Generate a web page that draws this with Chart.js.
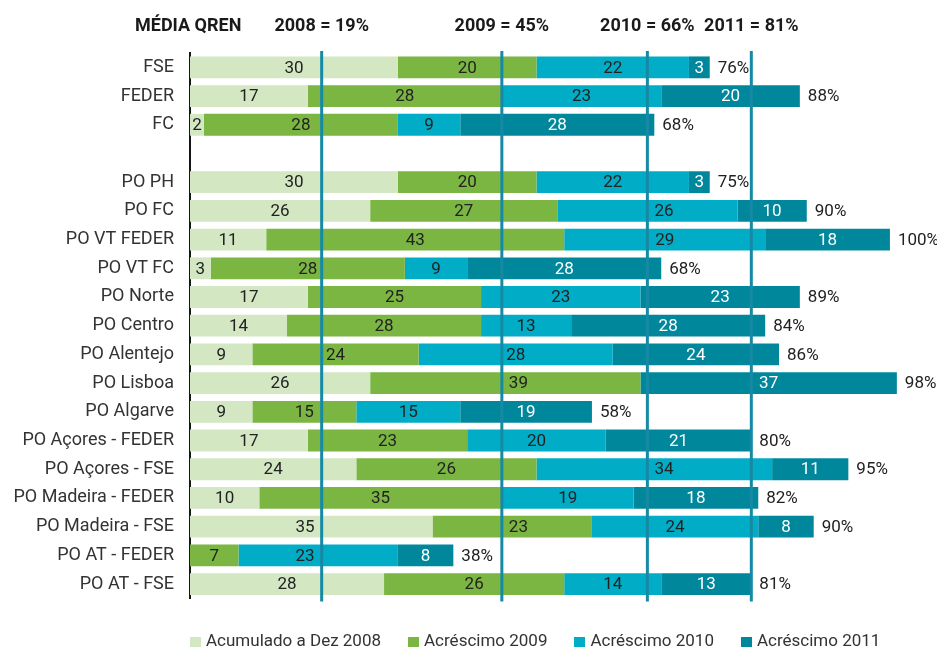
<!DOCTYPE html>
<html>
<head>
<meta charset="utf-8">
<script src="https://cdn.jsdelivr.net/npm/chart.js@4.4.1/dist/chart.umd.min.js"></script>
<style>
  html, body { margin: 0; padding: 0; background: #fff; overflow: hidden; }
  #wrap { position: relative; width: 937px; height: 647px; }
  #legend { position: absolute; left: 190px; top: 632px; display: flex; gap: 27px;
            font: 17px Roboto, sans-serif; color: #333; line-height: 17px; white-space: nowrap; }
  #legend .item { display: flex; align-items: center; }
  #legend .sw { display: inline-block; width: 11px; height: 11px; margin-right: 5px; margin-top: 3px; }
</style>
</head>
<body>
<div id="wrap">
  <canvas id="c" width="937" height="647"></canvas>
  <div id="legend"></div>
</div>
<script>
const categories = ['FSE', 'FEDER', 'FC', '', 'PO PH', 'PO FC', 'PO VT FEDER', 'PO VT FC', 'PO Norte',
  'PO Centro', 'PO Alentejo', 'PO Lisboa', 'PO Algarve', 'PO Açores - FEDER', 'PO Açores - FSE',
  'PO Madeira - FEDER', 'PO Madeira - FSE', 'PO AT - FEDER', 'PO AT - FSE'];
const acumulado2008 = [30, 17, 2, null, 30, 26, 11, 3, 17, 14, 9, 26, 9, 17, 24, 10, 35, 0, 28];
const acrescimo2009 = [20, 28, 28, null, 20, 27, 43, 28, 25, 28, 24, 39, 15, 23, 26, 35, 23, 7, 26];
const acrescimo2010 = [22, 23, 9, null, 22, 26, 29, 9, 23, 13, 28, 0, 15, 20, 34, 19, 24, 23, 14];
const acrescimo2011 = [3, 20, 28, null, 3, 10, 18, 28, 23, 28, 24, 37, 19, 21, 11, 18, 8, 8, 13];
const totalLabels = ['76%', '88%', '68%', '', '75%', '90%', '100%', '68%', '89%', '84%', '86%', '98%',
  '58%', '80%', '95%', '82%', '90%', '38%', '81%'];
const seriesNames = ['Acumulado a Dez 2008', 'Acréscimo 2009', 'Acréscimo 2010', 'Acréscimo 2011'];
const milestoneValues = [19, 45, 66, 81];
const milestoneLabels = ['2008 = 19%', '2009 = 45%', '2010 = 66%', '2011 = 81%'];
const headerTitle = 'MÉDIA QREN';

const seriesColors = ['#d3e7c3', '#7bb542', '#00acc6', '#00879c'];
const labelColors = ['#222', '#222', '#222', '#fff'];
const lineColor = '#168aa4';
const FONT = 'Roboto, sans-serif';

// HTML legend
const legendEl = document.getElementById('legend');
seriesNames.forEach((n, i) => {
  const it = document.createElement('div'); it.className = 'item';
  const sw = document.createElement('span'); sw.className = 'sw'; sw.style.background = seriesColors[i];
  const tx = document.createElement('span'); tx.textContent = n;
  it.appendChild(sw); it.appendChild(tx); legendEl.appendChild(it);
});

const seriesData = [acumulado2008, acrescimo2009, acrescimo2010, acrescimo2011];

const overlayPlugin = {
  id: 'overlay',
  afterDatasetsDraw(chart) {
    const ctx = chart.ctx;
    const xs = chart.scales.x;
    const area = chart.chartArea;
    const lineXs = milestoneValues.map(v => xs.getPixelForValue(v));

    // segment labels
    ctx.save();
    ctx.font = '17px ' + FONT;
    ctx.textAlign = 'center';
    ctx.textBaseline = 'middle';
    seriesData.forEach((arr, di) => {
      const meta = chart.getDatasetMeta(di);
      meta.data.forEach((bar, i) => {
        const v = arr[i];
        if (v === null || v === 0) return;
        const p = bar.getProps(['x', 'base', 'y'], true);
        const s = Math.min(p.x, p.base), e = Math.max(p.x, p.base);
        const txt = String(v);
        const w = ctx.measureText(txt).width;
        let cx = (s + e) / 2;
        lineXs.forEach(lx => {
          if (Math.abs(cx - lx) < w / 2 + 4) {
            const cand = cx < lx ? lx - w / 2 - 7 : lx + w / 2 + 7;
            if (cand - w / 2 >= s + 1 && cand + w / 2 <= e - 1) cx = cand;
          }
        });
        ctx.fillStyle = labelColors[di];
        ctx.fillText(txt, cx, p.y + 1);
      });
    });

    // milestone lines
    ctx.strokeStyle = lineColor;
    ctx.lineWidth = 3;
    lineXs.forEach(lx => {
      ctx.beginPath();
      ctx.moveTo(lx, area.top - 2);
      ctx.lineTo(lx, area.bottom + 3);
      ctx.stroke();
    });

    // total labels
    const lastMeta = chart.getDatasetMeta(3);
    ctx.textAlign = 'left';
    ctx.fillStyle = '#222';
    ctx.font = '17px ' + FONT;
    totalLabels.forEach((t, i) => {
      if (!t) return;
      const p = lastMeta.data[i].getProps(['x', 'y'], true);
      const w = ctx.measureText(t).width;
      const end = p.x;
      let x = end + 8;
      lineXs.forEach(lx => {
        if (x < lx + 2 && x + w > lx - 2) {
          const alt = lx - 2 - w;
          x = alt >= end + 4 ? alt : lx + 9;
        }
      });
      ctx.fillText(t, x, p.y + 1);
    });

    // header
    ctx.font = 'bold 18px ' + FONT;
    ctx.fillStyle = '#1a1a1a';
    ctx.textAlign = 'center';
    milestoneLabels.forEach((t, k) => ctx.fillText(t, lineXs[k], 26));
    ctx.textAlign = 'left';
    ctx.fillText(headerTitle, 135, 26);
    ctx.restore();
  }
};

new Chart(document.getElementById('c'), {
  type: 'bar',
  data: {
    labels: categories,
    datasets: seriesData.map((arr, i) => ({
      label: seriesNames[i],
      data: arr,
      backgroundColor: seriesColors[i],
      borderWidth: 0,
      clip: false,
      categoryPercentage: 0.76,
      barPercentage: 1
    }))
  },
  options: {
    indexAxis: 'y',
    responsive: false,
    animation: false,
    devicePixelRatio: 1,
    layout: { padding: { top: 53, right: 54, bottom: 48.6, left: 0 } },
    plugins: { legend: { display: false }, tooltip: { enabled: false } },
    scales: {
      x: { stacked: true, min: 0, max: 100, display: false },
      y: {
        stacked: true,
        grid: { display: false, drawTicks: false },
        border: { display: true, color: '#151515', width: 2 },
        ticks: { padding: 16, color: '#333', font: { family: FONT, size: 18 } },
        afterFit(scale) { scale.width = 190; }
      }
    }
  },
  plugins: [overlayPlugin]
});
</script>
</body>
</html>
